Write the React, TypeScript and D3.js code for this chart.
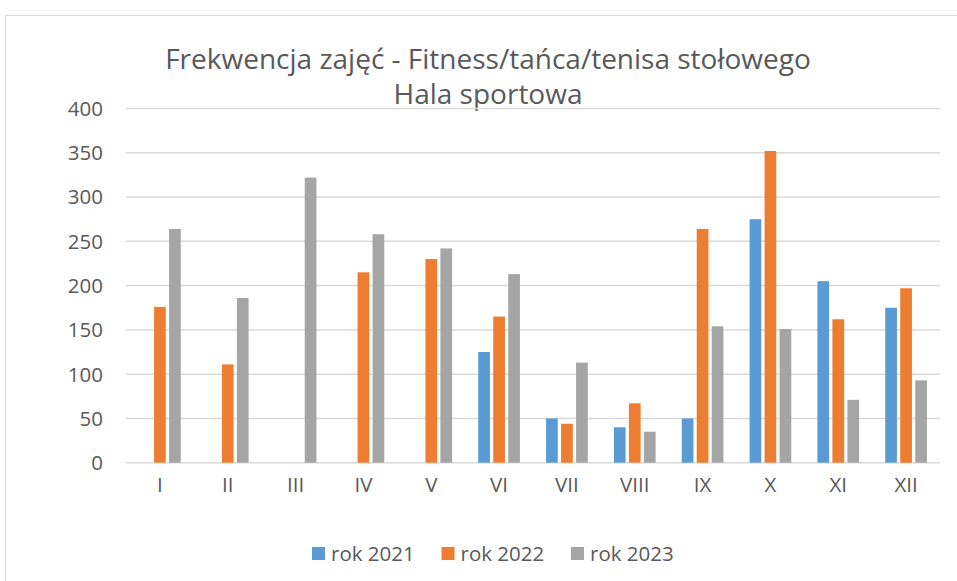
import React from "react";
import * as d3 from "d3";

const months = ["I", "II", "III", "IV", "V", "VI", "VII", "VIII", "IX", "X", "XI", "XII"];
const seriesNames = ["rok 2021", "rok 2022", "rok 2023"];
const rok2021 = [0, 0, 0, 0, 0, 125, 50, 40, 50, 275, 205, 175];
const rok2022 = [176, 111, 0, 215, 230, 165, 44, 67, 264, 352, 162, 197];
const rok2023 = [264, 186, 322, 258, 242, 213, 113, 35, 154, 151, 71, 93];
const yTicks = [0, 50, 100, 150, 200, 250, 300, 350, 400];
const colors = ["#5B9BD5", "#ED7D31", "#A5A5A5"];

const W = 957;
const H = 581;
const FONT = "'Open Sans', Lato, sans-serif";

const App = () => {
  const series = [rok2021, rok2022, rok2023];

  // plot area
  const x = d3.scaleBand().domain(months).range([126, 940]);
  const y = d3.scaleLinear().domain([0, 400]).range([462.7, 108.5]);

  // three bars per month with a small gap
  const barW = 11.7;
  const gap = 3.3;
  const groupW = 3 * barW + 2 * gap;

  return (
    <svg
      width={W}
      height={H}
      style={{ position: "absolute", left: 0, top: 0, background: "#fff" }}
      fontFamily={FONT}
    >
      {/* chart border */}
      <rect x={5.5} y={15.5} width={W + 10} height={H} fill="#fff" stroke="#d9d9d9" />

      {/* Title */}
      <text x={488} y={69} textAnchor="middle" fontSize={28} fill="#595959">
        Frekwencja zajęć - Fitness/tańca/tenisa stołowego
      </text>
      <text x={488} y={104} textAnchor="middle" fontSize={28} fill="#595959">
        Hala sportowa
      </text>

      {/* Gridlines + y labels */}
      {yTicks.map((t) => (
        <g key={t}>
          <line x1={126} x2={940} y1={y(t)} y2={y(t)} stroke="#d9d9d9" strokeWidth={1.5} />
          <text x={103} y={y(t)} dy="0.36em" textAnchor="end" fontSize={20.5} fill="#595959">
            {t}
          </text>
        </g>
      ))}

      {/* Bars */}
      {series.map((vals, si) =>
        vals.map((v, i) => {
          if (!v) return null;
          const cx = (x(months[i]) as number) + x.bandwidth() / 2;
          const bx = cx - groupW / 2 + si * (barW + gap);
          return (
            <rect
              key={`${si}-${i}`}
              x={bx}
              y={y(v)}
              width={barW}
              height={y(0) - y(v)}
              fill={colors[si]}
            />
          );
        })
      )}

      {/* X labels */}
      {months.map((m) => (
        <text
          key={m}
          x={(x(m) as number) + x.bandwidth() / 2}
          y={492}
          textAnchor="middle"
          fontSize={20.5}
          fill="#595959"
        >
          {m}
        </text>
      ))}

      {/* Legend */}
      {seriesNames.map((s, i) => {
        const lx = 312 + i * 129.5;
        return (
          <g key={s}>
            <rect x={lx} y={547} width={13} height={13} fill={colors[i]} />
            <text x={lx + 19} y={553.5} dy="0.36em" fontSize={20.5} fill="#595959">
              {s}
            </text>
          </g>
        );
      })}
    </svg>
  );
};

export default App;
